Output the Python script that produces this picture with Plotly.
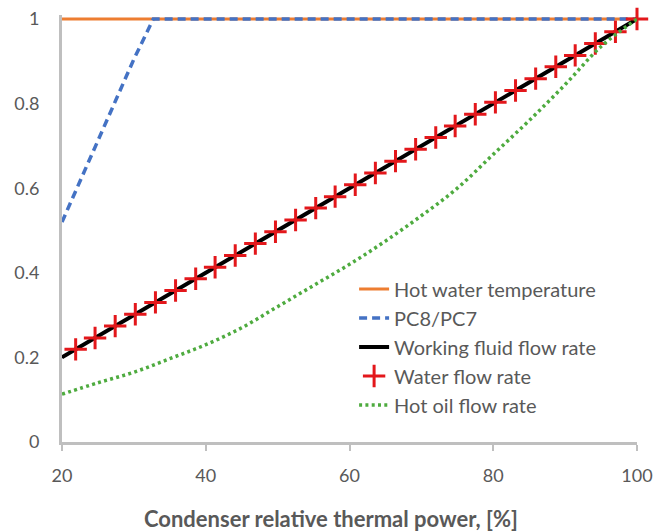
import plotly.graph_objects as go

# x positions (% condenser relative thermal power)
x_line = [20, 100]
hot_water_temp = [1.0, 1.0]
working_fluid = [0.2, 1.0]

pc_x = [20, 22.5, 25, 27.5, 30, 32.7, 100]
pc_y = [0.52, 0.615, 0.71, 0.81, 0.905, 1.0, 1.0]

water_x = [21.9, 24.6, 27.4, 30.2, 33.0, 35.8, 38.6, 41.3, 44.1, 46.9, 49.7, 52.5,
           55.3, 58.0, 60.8, 63.6, 66.4, 69.2, 72.0, 74.7, 77.5, 80.3, 83.1, 85.9,
           88.7, 91.4, 94.2, 97.0, 100.0]
water_y = [0.219, 0.246, 0.274, 0.302, 0.330, 0.358, 0.386, 0.413, 0.441, 0.469, 0.497, 0.525,
           0.553, 0.580, 0.608, 0.636, 0.664, 0.692, 0.720, 0.747, 0.775, 0.803, 0.831, 0.859,
           0.887, 0.914, 0.942, 0.970, 1.0]

oil_x = [20, 25, 30, 35, 40, 45, 50, 55, 60, 65, 70, 75, 80, 85, 90, 95, 100]
oil_y = [0.113, 0.14, 0.165, 0.197, 0.23, 0.27, 0.32, 0.37, 0.42, 0.475, 0.535, 0.60,
         0.68, 0.76, 0.845, 0.935, 1.0]

x_ticks = [20, 40, 60, 80, 100]
y_ticks = [0, 0.2, 0.4, 0.6, 0.8, 1]
y_tick_labels = ["0", "0.2", "0.4", "0.6", "0.8", "1"]
x_title = "Condenser relative thermal power, [%]"

FONT = "Lato"
GRAY = "#595959"
AXIS = "#BFBFBF"

fig = go.Figure()
fig.add_trace(go.Scatter(x=x_line, y=hot_water_temp, mode="lines", name="Hot water temperature",
                         line=dict(color="#ED7D31", width=3)))
fig.add_trace(go.Scatter(x=pc_x, y=pc_y, mode="lines", name="PC8/PC7",
                         line=dict(color="#4472C4", width=3.5, dash="8px,5px")))
fig.add_trace(go.Scatter(x=x_line, y=working_fluid, mode="lines", name="Working fluid flow rate",
                         line=dict(color="black", width=4)))
fig.add_trace(go.Scatter(x=water_x, y=water_y, mode="markers", name="Water flow rate",
                         marker=dict(symbol="cross-thin", size=16, color="#E3171B",
                                     line=dict(color="#E3171B", width=3)),
                         cliponaxis=False))
fig.add_trace(go.Scatter(x=oil_x, y=oil_y, mode="lines", name="Hot oil flow rate",
                         line=dict(color="#4EAB3F", width=3.5, dash="3px,3.3px", shape="spline")))

fig.update_layout(
    width=665, height=532,
    margin=dict(l=62, r=28, t=15, b=90),
    plot_bgcolor="white", paper_bgcolor="white",
    font=dict(family=FONT, size=18, color=GRAY),
    showlegend=True,
    legend=dict(x=0.508, y=0.404, xanchor="left", yanchor="top",
                font=dict(family=FONT, size=20, color=GRAY),
                bgcolor="rgba(0,0,0,0)", tracegroupgap=0, itemwidth=30),
    xaxis=dict(range=[20, 100], tickvals=x_ticks, showline=True, linecolor=AXIS, linewidth=3,
               ticks="outside", tickcolor=AXIS, tickwidth=2, ticklen=6, showgrid=False,
               zeroline=False, ticklabelstandoff=9, automargin=False,
               tickfont=dict(family=FONT, size=18, color=GRAY)),
    yaxis=dict(range=[0, 427/423], tickvals=y_ticks, ticktext=y_tick_labels, showline=True,
               linecolor=AXIS, linewidth=3, ticks="", showgrid=False, zeroline=False,
               ticklabelstandoff=16, automargin=False,
               tickfont=dict(family=FONT, size=18, color=GRAY)),
    annotations=[dict(text="<b>" + x_title + "</b>", xref="paper", yref="paper",
                      x=0.468, y=-0.180, xanchor="center", yanchor="middle", showarrow=False,
                      font=dict(family=FONT, size=22, color=GRAY))],
)

fig.write_html("out.html", config={"displayModeBar": False},
               post_script="document.body.style.margin='0';")
